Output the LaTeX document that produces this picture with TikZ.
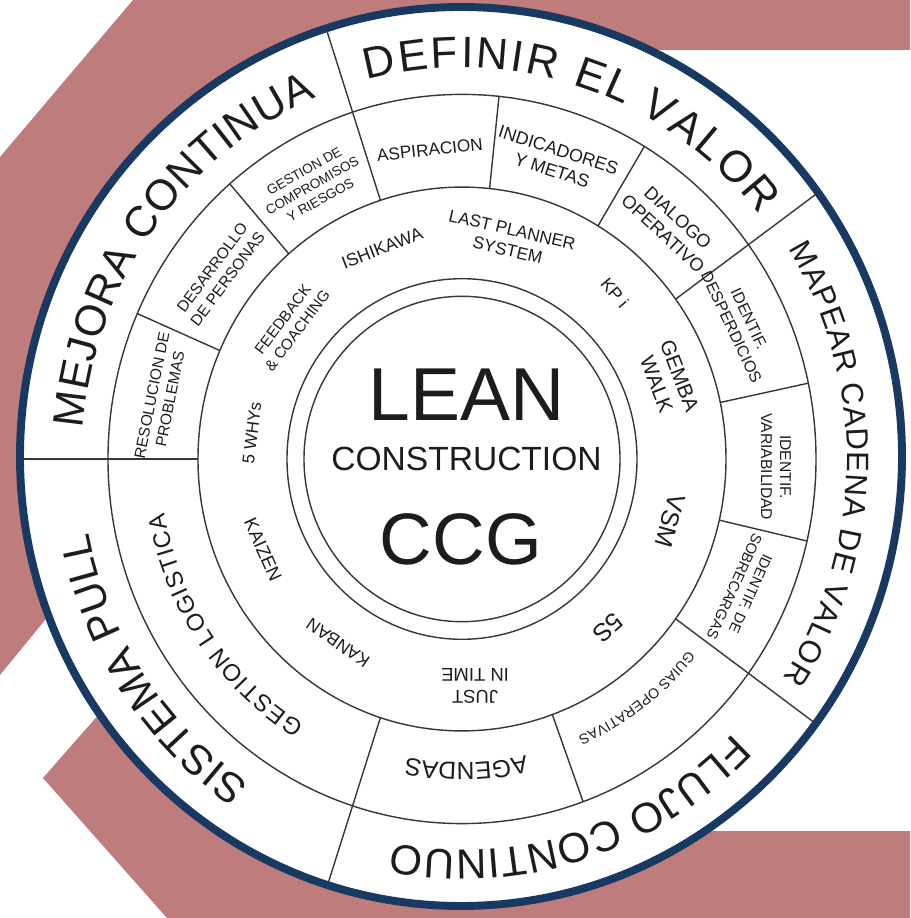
\documentclass[tikz,border=0pt]{standalone}
\usepackage{fontspec}
\setmainfont{Liberation Sans}
\usetikzlibrary{decorations.text}
\definecolor{pinkbg}{RGB}{190,124,124}
\definecolor{navy}{RGB}{24,58,98}
\definecolor{ink}{RGB}{28,28,28}
\definecolor{linec}{RGB}{55,55,55}
\newcommand{\fsz}[2]{\fontsize{#1pt}{#2pt}\selectfont}
\tikzset{
  lbl/.style={text=ink, align=center, inner sep=0pt},
  ringline/.style={draw=linec, line width=0.8pt},
  curved/.style={decorate, decoration={text along path, text align=fit to path, text color=ink, text={#1}}}
}
\begin{document}
\begin{tikzpicture}[x=0.02cm,y=0.02cm]
\useasboundingbox (-462,-459) rectangle (448,459);
\fill[white] (-462,-459) rectangle (448,459);
% background logo shapes
\fill[pinkbg] (-329,459) -- (448,459) -- (448,409) -- (-2,409) -- (-362,-94) -- (-462,-216) -- (-462,302) -- cycle;
\fill[pinkbg] (-419,-319) -- (-269,-148) -- (-2,-372) -- (448,-372) -- (448,-459) -- (-295,-459) -- cycle;
% disk
\fill[white] (-1,2.5) ellipse [x radius=441, y radius=449.5];
% rings
\draw[ringline] (0,0) ellipse [x radius=354, y radius=364.6];
\draw[ringline] (0,0) ellipse [x radius=264, y radius=271.9];
\draw[ringline] (0,0) ellipse [x radius=175, y radius=180.3];
\draw[ringline] (0,0) ellipse [x radius=158, y radius=162.7];
% dividers
\foreach \a in {180,108,36,-36,-108}
  \draw[ringline] (\a:264 and 271.9) -- (\a:438 and 451);
\foreach \a in {84,59,12,-13,-70,131,156.5}
  \draw[ringline] (\a:264 and 271.9) -- (\a:354 and 364.6);
% blue border
\draw[navy, line width=4.5pt] (-1,2.5) ellipse [x radius=441, y radius=449.5];
% outer ring texts
\path[curved={|\fsz{25}{25}|DEFINIR EL VALOR}] (104.5:380 and 391.4) arc[start angle=104.5, end angle=38.5, x radius=380, y radius=391.4];
\path[curved={|\fsz{17.6}{18}|MAPEAR CADENA DE VALOR}] (32:385 and 396.6) arc[start angle=32, end angle=-33.5, x radius=385, y radius=396.6];
\path[curved={|\fsz{23.9}{24}|FLUJO CONTINUO}] (-44.5:380 and 391.4) arc[start angle=-44.5, end angle=-100.5, x radius=380, y radius=391.4];
\path[curved={|\fsz{23.9}{24}|SISTEMA PULL}] (-123.9:380 and 391.4) arc[start angle=-123.9, end angle=-169.2, x radius=380, y radius=391.4];
\path[curved={|\fsz{24.5}{25}|MEJORA CONTINUA}] (175.5:380 and 391.4) arc[start angle=175.5, end angle=112.5, x radius=380, y radius=391.4];
% second ring curved texts
\path[curved={|\fsz{13.6}{14}|GESTION LOGISTICA}] (-121.5:302 and 311.1) arc[start angle=-121.5, end angle=-170, x radius=302, y radius=311.1];
\path[curved={|\fsz{8.1}{9}|GUIAS OPERATIVAS}] (-39.5:293 and 301.8) arc[start angle=-39.5, end angle=-66.7, x radius=293, y radius=301.8];
\path[curved={|\fsz{14}{14}|AGENDAS}] (-77.5:295 and 303.9) arc[start angle=-77.5, end angle=-100.5, x radius=295, y radius=303.9];
% second ring labels
\node[lbl, rotate=6, font=\fsz{9.8}{11.8}] (aspiracion) at (96.1:302 and 311) {ASPIRACION};
\node[lbl, rotate=-17.8, font=\fsz{10.2}{12.2}] (indicadores) at (72.2:305 and 314) {INDICADORES\\Y METAS};
\node[lbl, rotate=-42.6, font=\fsz{10.4}{12.4}] (dialogo) at (47.4:308 and 317) {DIALOGO\\OPERATIVO};
\node[lbl, rotate=-64.6, font=\fsz{9.1}{11}] (desperdicios) at (25.4:308 and 317) {IDENTIF.\\DESPERDICIOS};
\node[lbl, rotate=-90, font=\fsz{8.9}{10.8}] (variabilidad) at (-1.4:314 and 323) {IDENTIF.\\VARIABILIDAD};
\node[lbl, rotate=-114.4, font=\fsz{8.4}{10.2}] (sobrecargas) at (-24.4:308 and 317) {IDENTIF. DE\\SOBRECARGAS};
\node[lbl, rotate=78.7, font=\fsz{8.8}{10.6}] (resolucion) at (168.7:307 and 316) {RESOLUCION DE\\PROBLEMAS};
\node[lbl, rotate=53.3, font=\fsz{8.9}{10.8}] (desarrollo) at (143.3:302 and 311) {DESARROLLO\\DE PERSONAS};
\node[lbl, rotate=29.4, font=\fsz{7.7}{9.4}] (compromisos) at (119.4:305 and 314) {GESTION DE\\COMPROMISOS\\Y RIESGOS};
% tools ring
\node[lbl, rotate=21.3, font=\fsz{10.1}{12}] (ishikawa) at (111.3:220 and 226.6) {ISHIKAWA};
\node[lbl, rotate=-13, font=\fsz{9.8}{11.8}] (lastplanner) at (77.3:218 and 224.5) {LAST PLANNER\\SYSTEM};
\node[lbl, rotate=-50, font=\fsz{10}{12}] (kpi) at (46.5:222 and 228.7) {KP i};
\node[lbl, rotate=-69, font=\fsz{11.8}{14}] (gemba) at (20.4:220 and 226.6) {GEMBA\\WALK};
\node[lbl, rotate=-106, font=\fsz{14.2}{16}] (vsm) at (-16.1:216.5 and 223) {VSM};
\node[lbl, rotate=-138.3, font=\fsz{14.2}{16}] (fives) at (-48.3:219.6 and 226.2) {5S};
\node[lbl, rotate=180, font=\fsz{10.5}{12.4}] (jit) at (-86.6:220.8 and 227.4) {JUST\\IN TIME};
\node[lbl, rotate=145.2, font=\fsz{10}{12}] (kanban) at (-124.8:217.4 and 223.9) {KANBAN};
\node[lbl, rotate=-66, font=\fsz{10.5}{12}] (kaizen) at (-156.1:217.7 and 224.2) {KAIZEN};
\node[lbl, rotate=83, font=\fsz{9.7}{11.6}] (whys) at (173.2:211.5 and 217.8) {5 WHYs};
\node[lbl, rotate=52.9, font=\fsz{8.7}{10.4}] (feedback) at (142.9:215.6 and 222.1) {FEEDBACK\\\& COACHING};
% centre
\node[lbl, font=\fsz{42.7}{44}] (lean) at (4.5,64) {LEAN};
\node[lbl, font=\fsz{19.1}{20}] (construction) at (4.5,0.5) {CONSTRUCTION};
\node[lbl, font=\fsz{41.5}{44}] (ccg) at (-1,-80.5) {CCG};
\end{tikzpicture}
\end{document}
